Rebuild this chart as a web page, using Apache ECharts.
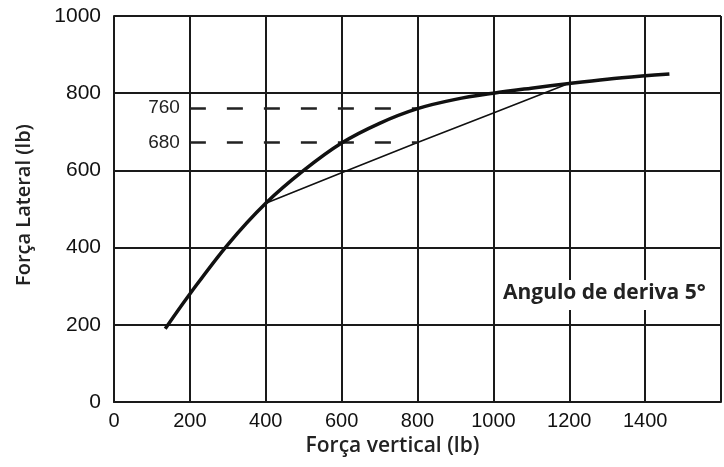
<!DOCTYPE html>
<html>
<head>
<meta charset="utf-8">
<script src="https://cdn.jsdelivr.net/npm/echarts@6/dist/echarts.min.js"></script>
<style>
html,body{margin:0;padding:0;background:#fff;}
#c{width:724px;height:467px;}
</style>
</head>
<body>
<div id="c"></div>
<script>
// Data
var xTicks = [0, 200, 400, 600, 800, 1000, 1200, 1400];
var yTicks = [0, 200, 400, 600, 800, 1000];
var curveX = [135, 200, 300, 400, 500, 600, 700, 800, 900, 1000, 1100, 1200, 1300, 1400, 1464];
var curveY = [190, 280, 408, 515, 600, 671, 722, 760, 784, 800, 813, 825, 836, 845, 850];
var chordX = [400, 600, 800, 1000, 1190];
var chordY = [515, 594, 672, 749, 822];
var dashLevels = [762, 672];
var dashLabels = ['760', '680'];
var dashFrom = 200;
var dashTo = 800;
var annotation = 'Angulo de deriva 5°';
var xName = 'Força vertical (lb)';
var yName = 'Força Lateral (lb)';

var curve = curveX.map(function (x, i) { return [x, curveY[i]]; });
var chord = chordX.map(function (x, i) { return [x, chordY[i]]; });
var dashData = dashLevels.map(function (v, i) {
  return [{ coord: [dashFrom, v], label: { formatter: dashLabels[i] } }, { coord: [dashTo, v] }];
});

var ink = '#1a1a1a';
var chart = echarts.init(document.getElementById('c'), null, { renderer: 'canvas' });
chart.setOption({
  animation: false,
  backgroundColor: '#fff',
  grid: { left: 114, top: 16, bottom: 65, right: -5 },
  xAxis: {
    type: 'value', min: 0, max: 1600, interval: 200,
    name: xName, nameLocation: 'middle', nameGap: 32,
    nameTextStyle: { fontFamily: 'Open Sans', fontSize: 21, fontWeight: 600, color: '#222', padding: [0, 50, 0, 0] },
    axisLine: { show: true, lineStyle: { color: ink, width: 2 } },
    axisTick: { show: false },
    splitLine: { show: true, lineStyle: { color: ink, width: 2 } },
    axisLabel: {
      margin: 9, fontFamily: 'Liberation Sans', fontSize: 20, color: '#111',
      formatter: function (v) { return xTicks.indexOf(v) >= 0 ? String(v) : ''; }
    }
  },
  yAxis: {
    type: 'value', min: 0, max: 1000, interval: 200,
    name: yName, nameLocation: 'middle', nameGap: 80,
    nameTextStyle: { fontFamily: 'Open Sans', fontSize: 20, fontWeight: 600, color: '#222', padding: [0, 0, 0, 8] },
    axisLine: { show: true, lineStyle: { color: ink, width: 2 } },
    axisTick: { show: false },
    splitLine: { show: true, lineStyle: { color: ink, width: 2 } },
    axisLabel: {
      margin: 13, fontFamily: 'Liberation Sans', fontSize: 21, color: '#111',
      formatter: function (v) { return yTicks.indexOf(v) >= 0 ? String(v) : ''; }
    }
  },
  series: [
    {
      type: 'line', data: curve, smooth: 0.35, symbol: 'none',
      lineStyle: { color: '#111', width: 3.5 }, z: 5
    },
    {
      type: 'line', data: chord, smooth: false, symbol: 'none',
      lineStyle: { color: '#111', width: 1.6 }, z: 4,
      markLine: {
        symbol: ['none', 'none'], silent: true,
        lineStyle: { color: '#222', width: 2.5, type: [16, 21] },
        label: { show: true, position: 'start', distance: 10, fontFamily: 'Liberation Sans', fontSize: 19, color: '#222' },
        data: dashData
      }
    }
  ],
  graphic: [{
    type: 'text', left: 500, top: 280, z: 100,
    style: {
      text: annotation, font: 'bold 21px "Open Sans"', fill: '#222',
      backgroundColor: '#fff', padding: [3, 4, 6, 3]
    }
  }]
});
</script>
</body>
</html>
